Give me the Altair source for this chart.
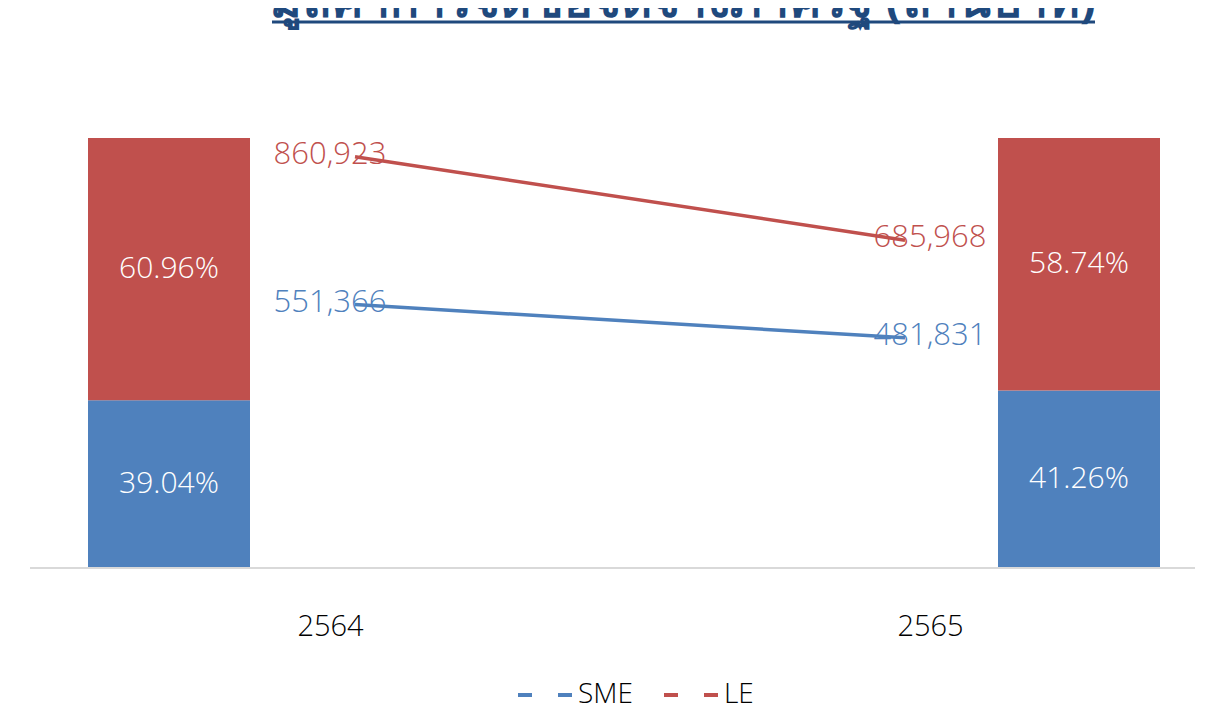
import altair as alt
import pandas as pd

YEARS = ["2564", "2565"]
SERIES = ["SME", "LE"]
SME_VALUES = [551366, 481831]
LE_VALUES = [860923, 685968]
COLORS = ["#4F81BD", "#C0504D"]
TITLE = "มูลค่าการจัดซื้อจัดจ้างภาครัฐ (ล้านบาท)"
FONT = "Open Sans"
W = 300

rows = []
for i, y in enumerate(YEARS):
    rows.append({"year": y, "series": "SME", "value": SME_VALUES[i], "order": 0})
    rows.append({"year": y, "series": "LE", "value": LE_VALUES[i], "order": 1})
df = pd.DataFrame(rows)

color_scale = alt.Scale(domain=SERIES, range=COLORS)

bar_x = alt.X("year:N", scale=alt.Scale(type="point", range=[139, 1049], padding=0), axis=None)

stacked = alt.Chart(df).transform_stack(
    stack="value", groupby=["year"], as_=["y0", "y1"], offset="normalize",
    sort=[alt.SortField("order", order="ascending")]
).transform_calculate(mid="(datum.y0+datum.y1)/2", share="datum.y1-datum.y0")

bars = stacked.mark_bar(size=162).encode(
    x=bar_x,
    y=alt.Y("y0:Q", scale=alt.Scale(domain=[0, 1]), axis=None),
    y2="y1:Q",
    color=alt.Color("series:N", scale=color_scale, legend=None),
)

bar_text = stacked.mark_text(color="white", fontSize=30, font=FONT, fontWeight=W,
                             baseline="middle").encode(
    x=bar_x,
    y=alt.Y("mid:Q", scale=alt.Scale(domain=[0, 1]), axis=None),
    text=alt.Text("share:Q", format=".2%"),
)

line_text = alt.Chart(df).mark_text(fontSize=31, font=FONT, fontWeight=W,
                                    baseline="middle", dy=-2).encode(
    x=alt.X("year:N", scale=alt.Scale(type="point", range=[300, 900], padding=0),
            axis=alt.Axis(title=None, domain=False, ticks=False, grid=False, labelAngle=0,
                          labelFontSize=29, labelFont=FONT, labelFontWeight=W,
                          labelColor="black", labelPadding=44)),
    y=alt.Y("value:Q", scale=alt.Scale(domain=[0, 900000]), axis=None),
    text=alt.Text("value:Q", format=",.0f"),
    color=alt.Color("series:N", scale=color_scale, legend=None),
)

lines = alt.Chart(df).mark_line(strokeWidth=3.5).encode(
    x=alt.X("year:N", scale=alt.Scale(type="point", range=[325, 875], padding=0), axis=None),
    y=alt.Y("value:Q", scale=alt.Scale(domain=[0, 900000]), axis=None),
    color=alt.Color("series:N", scale=color_scale, sort=SERIES,
                    legend=alt.Legend(title=None, orient="none", legendX=486, legendY=528,
                                      direction="horizontal", symbolType="stroke",
                                      symbolStrokeWidth=4, symbolSize=2916, symbolDash=[14, 26],
                                      labelFontSize=28, labelFont=FONT, labelFontWeight=W,
                                      labelColor="black", columnPadding=23, labelOffset=4)),
)

baseline = alt.Chart(pd.DataFrame({"v": [0]})).mark_rule(color="#D9D9D9", strokeWidth=2).encode(
    y=alt.Y("v:Q", scale=alt.Scale(domain=[0, 1]), axis=None)
)

title_df = pd.DataFrame({"t": [TITLE]})
title = alt.Chart(title_df).mark_text(fontSize=48, fontWeight="bold", color="#1F497D", font=FONT,
                                      align="center", baseline="alphabetic").encode(
    x=alt.value(653), y=alt.value(-121), text="t:N"
)
underline = alt.Chart(title_df).mark_rule(color="#1F497D", strokeWidth=3).encode(
    x=alt.value(242), x2=alt.value(1065), y=alt.value(-116)
)

chart = alt.layer(bars, bar_text, baseline, line_text, lines, title, underline).resolve_scale(
    x="independent", y="independent", color="independent"
).properties(
    width=1165, height=430,
    autosize=alt.AutoSizeParams(type="none"),
    padding={"left": 22, "top": 130, "right": 0, "bottom": 152},
).configure_view(stroke=None)

chart.save("out.html", embed_options={"renderer": "svg", "actions": False})
